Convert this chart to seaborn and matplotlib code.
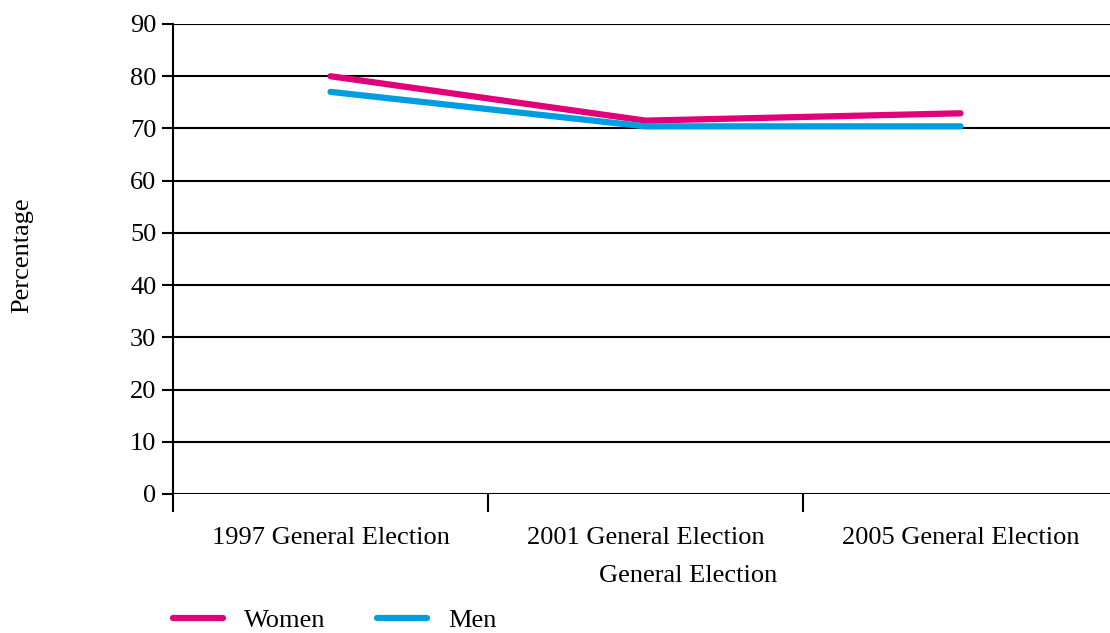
import matplotlib
matplotlib.use("Agg")
import matplotlib.pyplot as plt
import seaborn as sns
import pandas as pd
from matplotlib.lines import Line2D

elections = ["1997 General Election", "2001 General Election", "2005 General Election"]
women = [80.0, 71.5, 72.9]
men = [77.0, 70.4, 70.4]
series_names = ["Women", "Men"]
colors = {"Women": "#E2007A", "Men": "#009EE0"}
yticks = list(range(0, 91, 10))

df = pd.DataFrame({
    "Election": elections * 2,
    "Percentage": women + men,
    "Series": ["Women"] * 3 + ["Men"] * 3,
})
df["x"] = [0, 1, 2] * 2

sns.set_style("white")
plt.rcParams["font.family"] = ["Liberation Serif", "DejaVu Serif"]
plt.rcParams["text.color"] = "black"
plt.rcParams["xtick.color"] = "black"
plt.rcParams["ytick.color"] = "black"
plt.rcParams["axes.labelcolor"] = "black"

fs = 19
fig = plt.figure(figsize=(11.1, 6.33), dpi=100)
ax = fig.add_axes([173/1110, 1 - 494/633, 945/1110, 470/633])

for yv in yticks:
    ax.axhline(yv, color="black", lw=1.5, zorder=1)

sns.lineplot(data=df, x="x", y="Percentage", hue="Series", hue_order=series_names,
             palette=colors, lw=4.5, ax=ax, legend=False, zorder=3,
             solid_capstyle="round")

ax.set_xlim(-0.5, 2.5)
ax.set_ylim(0, 90)
ax.set_yticks(yticks)
ax.set_yticklabels([str(v) for v in yticks], fontsize=fs)
ax.set_xticks([-0.5, 0.5, 1.5, 2.5])
ax.set_xticklabels([])
ax.set_xticks([0, 1, 2], minor=True)
ax.set_xticklabels(elections, minor=True, fontsize=fs)
ax.tick_params(axis="x", which="major", bottom=True, direction="out", length=13, width=1.5)
ax.tick_params(axis="x", which="minor", bottom=True, length=0, pad=24)
ax.tick_params(axis="y", left=True, direction="out", length=8, width=1.5, pad=4)
for s in ["top", "right", "bottom"]:
    ax.spines[s].set_visible(False)
ax.spines["left"].set_color("black")
ax.spines["left"].set_linewidth(1.5)
ax.set_xlabel("General Election", fontsize=fs)
ax.xaxis.set_label_coords((688 - 173) / 945, (494 - 576) / 470)
ax.xaxis.label.set_va("center")
ax.set_ylabel("Percentage", fontsize=fs)
ax.yaxis.set_label_coords((22 - 173) / 945, (494 - 255) / 470)
ax.yaxis.label.set_va("center")

handles = [Line2D([], [], color=colors[n], lw=4.5, solid_capstyle="round") for n in series_names]
fig.legend(handles, series_names, loc="center left", bbox_to_anchor=(173/1110, 1 - 620/633),
           ncol=2, frameon=False, fontsize=fs, handlelength=1.9, columnspacing=1.95,
           handletextpad=0.8, borderpad=0, borderaxespad=0)

fig.savefig("out.png", dpi=100)
